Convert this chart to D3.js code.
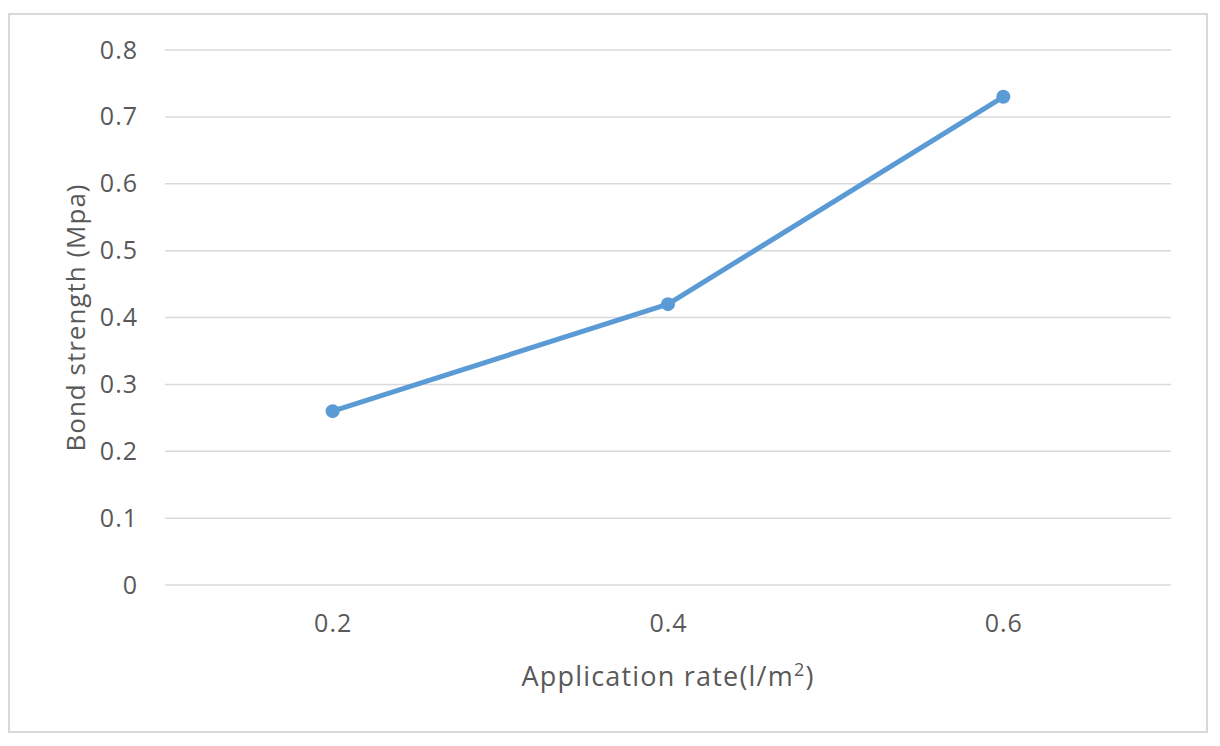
<!DOCTYPE html>
<html><head><meta charset="utf-8">
<script src="https://cdn.jsdelivr.net/npm/d3@7"></script>
<style>body{margin:0;background:#fff}svg{display:block}text{font-family:"Open Sans",sans-serif;fill:#595959}</style>
</head><body>
<svg id="c" width="1220" height="746"></svg>
<script>
const categories = ["0.2", "0.4", "0.6"];
const values = [0.26, 0.42, 0.73];
const yTicks = [0, 0.1, 0.2, 0.3, 0.4, 0.5, 0.6, 0.7, 0.8];
const xTitle = "Application rate(l/m";
const yTitle = "Bond strength  (Mpa)";

const svg = d3.select("#c");
svg.append("rect").attr("x", 9).attr("y", 14).attr("width", 1198).attr("height", 718)
  .attr("fill", "#fff").attr("stroke", "#d9d9d9").attr("stroke-width", 2);

const L = 165, R = 1171, T = 50, B = 585;
const x = d3.scalePoint().domain(categories).range([L, R]).padding(0.5);
const y = d3.scaleLinear().domain([0, 0.8]).range([B, T]);

const grid = svg.append("g");
grid.selectAll("line").data(yTicks).join("line")
  .attr("x1", L).attr("x2", R).attr("y1", d => y(d)).attr("y2", d => y(d))
  .attr("stroke", "#d9d9d9").attr("stroke-width", 1.5);

const yAxis = svg.append("g").attr("transform", `translate(${L},0)`)
  .call(d3.axisLeft(y).tickValues(yTicks).tickSize(0).tickPadding(27).tickFormat(d => d === 0 ? "0" : d3.format(".1f")(d)));
yAxis.select(".domain").remove();
yAxis.selectAll("text").style("font-size", "25px").style("fill", "#595959").style("letter-spacing", "1px");

const xAxis = svg.append("g").attr("transform", `translate(0,${B})`)
  .call(d3.axisBottom(x).tickSize(0).tickPadding(29));
xAxis.select(".domain").remove();
xAxis.selectAll("text").style("font-size", "25px").style("fill", "#595959").style("letter-spacing", "1px");

const line = d3.line().x((d, i) => x(categories[i])).y(d => y(d));
svg.append("path").datum(values).attr("d", line).attr("fill", "none")
  .attr("stroke", "#5B9BD5").attr("stroke-width", 5).attr("stroke-linejoin", "round");
svg.selectAll("circle.pt").data(values).join("circle").attr("class", "pt")
  .attr("cx", (d, i) => x(categories[i])).attr("cy", d => y(d)).attr("r", 7).attr("fill", "#5B9BD5");

const xt = svg.append("text").attr("x", (L + R) / 2).attr("y", 686).attr("text-anchor", "middle")
  .style("font-size", "27px").style("letter-spacing", "1.2px");
xt.append("tspan").text(xTitle);
xt.append("tspan").text("2").attr("dy", -10).style("font-size", "18px");
xt.append("tspan").text(")").attr("dy", 10);

svg.append("text").attr("transform", `translate(85,${(T + B) / 2}) rotate(-90)`).attr("text-anchor", "middle")
  .style("font-size", "26px").style("letter-spacing", "1px").text(yTitle);
</script>
</body></html>
